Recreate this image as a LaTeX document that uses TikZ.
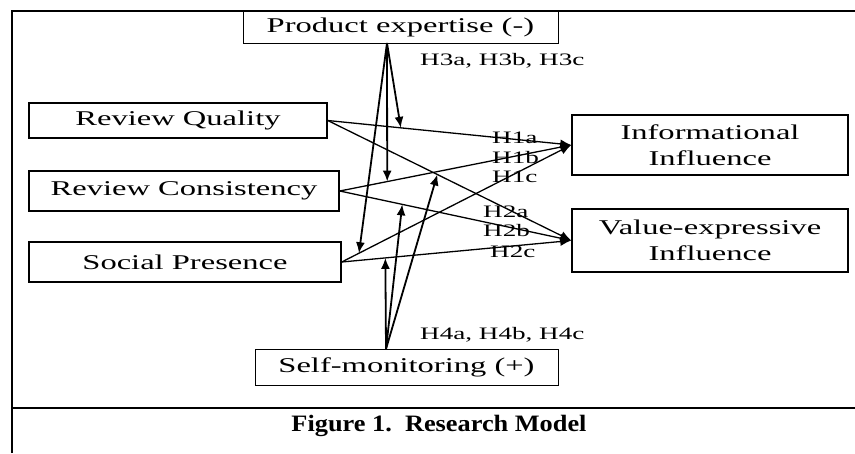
\documentclass[tikz,border=0pt]{standalone}
\usepackage{fontspec}
\setmainfont{Liberation Serif}
\newfontfamily\widefont[FakeStretch=1.55]{Liberation Serif}
\newfontfamily\capfont[FakeStretch=1.12]{Liberation Serif}
\usetikzlibrary{arrows.meta}

\begin{document}
\begin{tikzpicture}[
  x=1pt, y=-1pt,
  construct/.style={
    rectangle, draw=black, line width=1.5pt, inner sep=0pt,
    align=center, font=\widefont\fontsize{21}{26}\selectfont,
  },
  moderator/.style={construct, line width=0.9pt},
  hyp/.style={inner sep=0pt, anchor=base west,
              font=\widefont\fontsize{17.5}{20}\selectfont},
  effect/.style={line width=1.3pt, -{Latex[length=11pt,width=9pt]}},
  modeffect/.style={line width=1.8pt, -{Latex[length=11pt,width=9pt]}},
  panel/.style={line width=2.2pt},
]
\useasboundingbox (0,0) rectangle (855,453);

% frame and caption strip
\draw[panel] (12,453) |- (855,11);
\draw[panel] (12,408) -- (855,408);
\node[font=\capfont\bfseries\fontsize{23.5}{26}\selectfont] (cap) at (439,426)
  {Figure 1.\ \ Research Model};

% constructs
\node[moderator, minimum width=315pt, minimum height=32pt] (pe) at (400.5,27) {Product expertise (-)};
\node[construct, minimum width=298pt, minimum height=35pt] (rq) at (178,120.5) {Review Quality};
\node[construct, minimum width=310pt, minimum height=40pt] (rc) at (184,191) {Review Consistency};
\node[construct, minimum width=312pt, minimum height=40pt] (sp) at (185,262) {Social Presence};
\node[moderator, minimum width=303pt, minimum height=36pt] (sm) at (406.5,367) {Self-monitoring (+)};
\node[construct, minimum width=276pt, minimum height=60pt] (info) at (710,145) {Informational\\Influence};
\node[construct, minimum width=276pt, minimum height=63pt] (ve) at (710,240.5) {Value-expressive\\Influence};

% direct effects
\draw[effect] (rq.east) -- coordinate[pos=0.3] (rq-info) (info.west);
\draw[effect] (rc.east) -- coordinate[pos=0.205] (rc-info) (info.west);
\draw[effect] (sp.east) -- coordinate[pos=0.075] (sp-info) (info.west);
\draw[effect] (rq.east) -- coordinate[pos=0.45] (rq-ve) (ve.west);
\draw[effect] (rc.east) -- coordinate[pos=0.27] (rc-ve) (ve.west);
\draw[effect] (sp.east) -- coordinate[pos=0.19] (sp-ve) (ve.west);

% moderating effects
\coordinate (pe-out) at (387,43);
\coordinate (sm-out) at (386,349);
\draw[modeffect] (pe-out) -- (rq-info);
\draw[modeffect] (pe-out) -- (rc-info);
\draw[modeffect] (pe-out) -- (sp-info);
\draw[modeffect] (sm-out) -- (sp-ve);
\draw[modeffect] (sm-out) -- (rc-ve);
\draw[modeffect] (sm-out) -- (rq-ve);

% hypothesis labels
\node[hyp] (h3) at (420,65) {H3a, H3b, H3c};
\node[hyp] (h4) at (420,339) {H4a, H4b, H4c};
\node[hyp] (h1a) at (492,143) {H1a};
\node[hyp] (h1b) at (492,163) {H1b};
\node[hyp] (h1c) at (492,182) {H1c};
\node[hyp] (h2a) at (483,217) {H2a};
\node[hyp] (h2b) at (483,236) {H2b};
\node[hyp] (h2c) at (490,257) {H2c};
\end{tikzpicture}
\end{document}
